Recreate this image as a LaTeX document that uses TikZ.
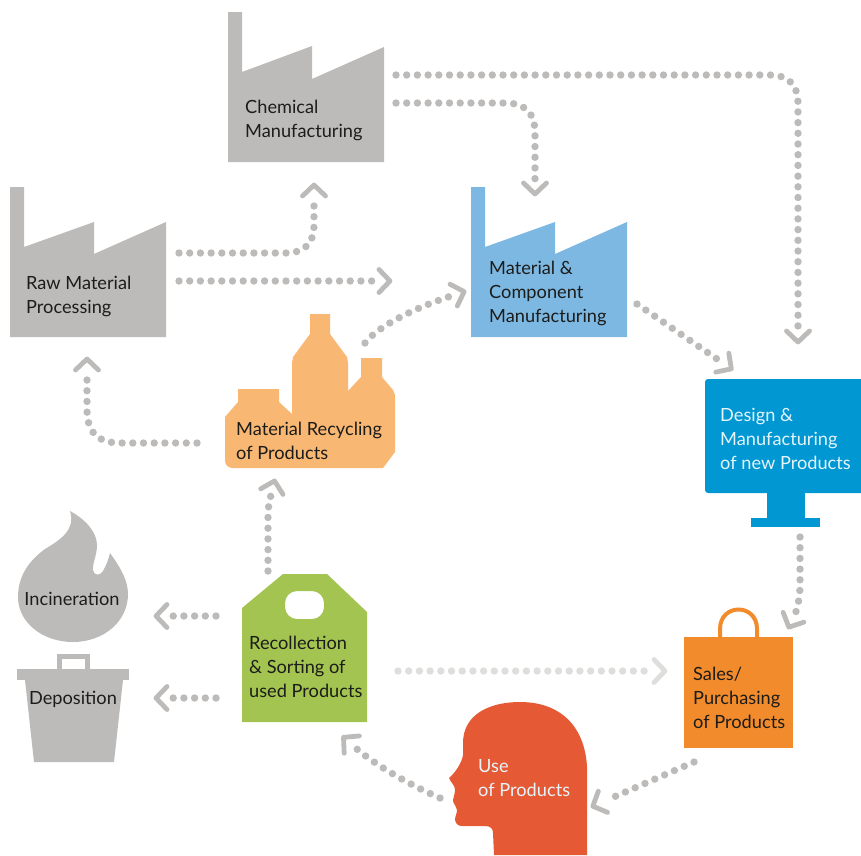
\documentclass[tikz,border=0pt]{standalone}
\usepackage{fontspec}
\setmainfont{Lato}
\usetikzlibrary{arrows.meta}
\definecolor{grayfill}{HTML}{BDBBB9}
\definecolor{dotgray}{HTML}{BDBBB9}
\definecolor{lightdot}{HTML}{DEDEDC}
\definecolor{blueA}{HTML}{7DB8E3}
\definecolor{blueB}{HTML}{0097D3}
\definecolor{peach}{HTML}{F8B772}
\definecolor{greenA}{HTML}{A3C450}
\definecolor{orangeA}{HTML}{F28B2C}
\definecolor{redA}{HTML}{E55A35}
\definecolor{ink}{HTML}{1C1C1A}
\definecolor{paleink}{HTML}{E6F4FA}
\pgfdeclarearrow{
  name=Chev,
  setup code={
    \pgfarrowssettipend{0pt}
    \pgfarrowssetlineend{-17pt}
    \pgfarrowssetvisualbackend{-17pt}
    \pgfarrowssetbackend{-17pt}
    \pgfarrowshullpoint{0pt}{0pt}
    \pgfarrowshullpoint{-13pt}{13pt}
    \pgfarrowshullpoint{-13pt}{-13pt}
  },
  drawing code={
    \pgfsetdash{}{0pt}
    \pgfsetlinewidth{4.8pt}
    \pgfsetroundjoin
    \pgfsetroundcap
    \pgfpathmoveto{\pgfqpoint{-13pt}{11.5pt}}
    \pgfpathlineto{\pgfqpoint{-2pt}{0pt}}
    \pgfpathlineto{\pgfqpoint{-13pt}{-11.5pt}}
    \pgfusepathqstroke
  }
}
\tikzset{
  flow/.style={draw=dotgray,line width=7.4pt,line cap=round,dash pattern=on 0pt off 10.7pt,-{Chev}},
  flowlight/.style={flow,draw=lightdot},
  lab/.style={font=\fontsize{18.2}{24}\selectfont,text=ink,align=left,anchor=west,inner sep=0pt},
  labw/.style={lab,text=paleink},
  labc/.style={lab,anchor=center,align=center}
}
\begin{document}
\begin{tikzpicture}[x=1pt,y=-1pt]
\useasboundingbox (0,0) rectangle (861,855);
% factories
\fill[grayfill] (228,12)--(242,12)--(242,72)--(312,46)--(312,79)--(384,47)--(384,162)--(228,162)--cycle;
\fill[grayfill] (10,187)--(24,187)--(24,247)--(94,222)--(94,254)--(166,222)--(166,337)--(10,337)--cycle;
\fill[blueA] (471,187)--(485,187)--(485,247)--(555,222)--(555,254)--(627,222)--(627,337)--(471,337)--cycle;
% monitor
\fill[blueB,rounded corners=3pt] (705,379) rectangle (870,493);
\fill[blueB] (767,490) rectangle (805,518);
\fill[blueB] (751,518) rectangle (820,527);
% bottles
\fill[peach] (225,417)--(238,402)--(238,389)--(279,389)--(279,402)--(292,414)--(292,363)--(293,357)--(310,334)--(310,314)--(330,314)--(330,334)--(347,357)--(348,363)--(348,391)--(361,377)--(361,358)--(382,358)--(382,377)--(393,390)--(395,395)--(395,452)--(383,468)--(233,468)
  .. controls (228,468) and (225,465) .. (225,460)--cycle;
% tag
\fill[greenA,even odd rule] (242,608)--(283,574)--(327,574)--(367,612)--(367,722)--(242,722)--cycle
  [rounded corners=12pt] (285,591) rectangle (324,619);
% bag
\draw[orangeA,line width=4pt] (720,638)--(720,629) .. controls (720,603) and (757,603) .. (757,629)--(757,638);
\fill[orangeA] (684,637) rectangle (793,748);
% head
\fill[redA] (587,855)--(587,767) .. controls (585,728) and (562,702) .. (520,702)
  .. controls (490,702) and (463,714) .. (463,743)--(463,755) .. controls (462,762) and (456,772) .. (449,778)
  .. controls (451,783) and (455,785) .. (455,790) .. controls (455,794) and (453,798) .. (453,801)
  .. controls (454,805) and (457,807) .. (457,810) .. controls (457,814) and (455,816) .. (455,820)
  .. controls (456,825) and (459,826) .. (463,826)--(485,826) .. controls (491,826) and (493,829) .. (493,833)--(494,855)--cycle;
% flame
\fill[grayfill] (70,511) .. controls (85,519) and (97,532) .. (97,545)
  .. controls (97,555) and (92,565) .. (93,570) .. controls (94,576) and (100,576) .. (103,571)
  .. controls (106,566) and (109,558) .. (110,553)
  .. controls (120,567) and (128,580) .. (128,594)
  .. controls (128,622) and (103,642) .. (73,642)
  .. controls (42,642) and (18,622) .. (18,597)
  .. controls (18,575) and (30,560) .. (45,549)
  .. controls (60,540) and (76,530) .. (70,511)--cycle;
% bucket
\draw[grayfill,line width=5pt] (59.5,669)--(59.5,656.5)--(87.5,656.5)--(87.5,669);
\fill[grayfill] (17,669) rectangle (129,680);
\fill[grayfill] (25,680)--(123,680)--(114,762)--(34,762)--cycle;
% labels
\node[lab] (chem) at (245,120.5) {Chemical\\Manufacturing};
\node[lab] (raw) at (26,296.5) {Raw Material\\Processing};
\node[lab] (mat) at (489,293.5) {Material \&\\Component\\Manufacturing};
\node[labw] (design) at (720,439) {Design \&\\Manufacturing\\of new Products};
\node[lab] (recy) at (236,441) {Material Recycling\\of Products};
\node[lab] (reco) at (249,667) {Recollection\\\& Sorting of\\used Products};
\node[lab] (sales) at (693,698) {Sales/\\Purchasing\\of Products};
\node[labw] (use) at (478,778) {Use\\of Products};
\node[labc] (inc) at (72,599) {Incineration};
\node[labc] (dep) at (73,699) {Deposition};
% connector ends
\coordinate (c1a) at (396,75); \coordinate (c1b) at (798,344);
\coordinate (c2a) at (396,103); \coordinate (c2b) at (535,196);
\coordinate (c3a) at (179,253); \coordinate (c3b) at (314,183);
\coordinate (c4a) at (179,281); \coordinate (c4b) at (392,281);
\coordinate (c5a) at (365,343); \coordinate (c5b) at (466,291);
\coordinate (c6a) at (637,304); \coordinate (c6b) at (733,370);
\coordinate (c7a) at (800,537); \coordinate (c7b) at (788,629);
\coordinate (c8a) at (694,762); \coordinate (c8b) at (591,807);
\coordinate (c9a) at (440,798); \coordinate (c9b) at (342,736);
\coordinate (c10a) at (268,571); \coordinate (c10b) at (275,479);
\coordinate (c11a) at (216,616); \coordinate (c11b) at (154,616);
\coordinate (c12a) at (216,698); \coordinate (c12b) at (154,698);
\coordinate (c13a) at (398,671); \coordinate (c13b) at (667,671);
\coordinate (c14a) at (197,443); \coordinate (c14b) at (87,357);
% connectors
\draw[flow] (c1a) -- (770,75) .. controls (788,75) and (798,85) .. (798,103) -- (c1b);
\draw[flow] (c2a) -- (505,103) .. controls (525,103) and (535,113) .. (535,133) -- (c2b);
\draw[flow] (c3a) -- (285,253) .. controls (305,253) and (314,243) .. (314,225) -- (c3b);
\draw[flow] (c4a) -- (c4b);
\draw[flow] (c5a) .. controls (378,326) and (415,308) .. (c5b);
\draw[flow] (c6a) -- (c6b);
\draw[flow] (c7a) -- (800,585) .. controls (800,600) and (796,612) .. (c7b);
\draw[flow] (c8a) -- (c8b);
\draw[flow] (c9a) .. controls (410,785) and (375,765) .. (c9b);
\draw[flow] (c10a) -- (268,515) .. controls (268,505) and (271,495) .. (c10b);
\draw[flow] (c11a) -- (c11b);
\draw[flow] (c12a) -- (c12b);
\draw[flowlight] (c13a) -- (c13b);
\draw[flow] (c14a) -- (120,443) .. controls (98,443) and (87,432) .. (87,410) -- (c14b);
\end{tikzpicture}
\end{document}
